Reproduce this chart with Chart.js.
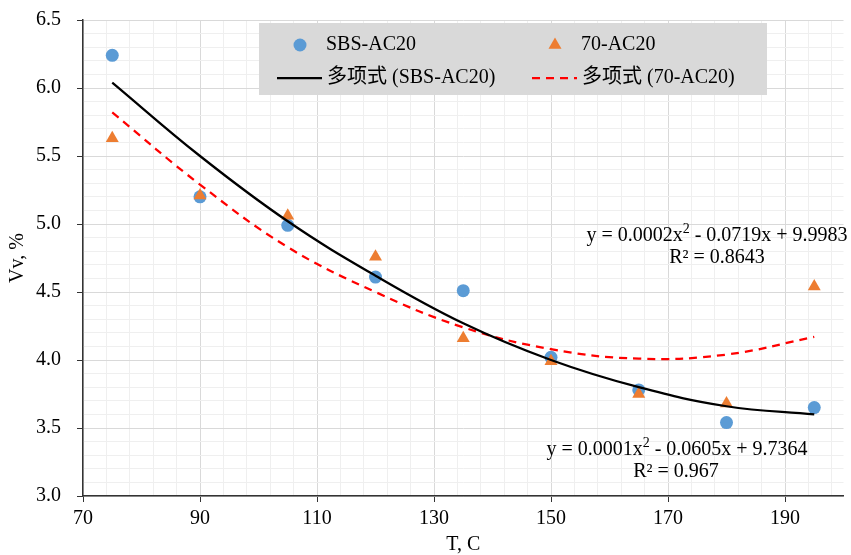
<!DOCTYPE html>
<html>
<head>
<meta charset="utf-8">
<script src="https://cdn.jsdelivr.net/npm/chart.js@4.4.0/dist/chart.umd.min.js"></script>
<style>
  body { margin: 0; background: #fff; }
</style>
</head>
<body>
<canvas id="myChart" width="851" height="555"></canvas>
<script>
// temperatures (x) and measured values
const temps = [75, 90, 105, 120, 135, 150, 165, 180, 195];
const sbsValues = [6.24, 5.20, 4.99, 4.61, 4.51, 4.02, 3.78, 3.54, 3.65];
const ac70Values = [5.63, 5.21, 5.06, 4.76, 4.16, 3.99, 3.75, 3.68, 4.54];
// trendline values at the same temperatures
const sbsTrend = [6.04, 5.50, 5.02, 4.62, 4.27, 4.00, 3.80, 3.66, 3.60];
const ac70Trend = [5.82, 5.29, 4.83, 4.50, 4.24, 4.08, 4.01, 4.04, 4.17];

const xMajorTicks = [70, 90, 110, 130, 150, 170, 190];
const yMajorTicks = [3.0, 3.5, 4.0, 4.5, 5.0, 5.5, 6.0, 6.5];

const sbsEquation = ['y = 0.0001x', '2', ' - 0.0605x + 9.7364'];
const sbsR2 = 'R² = 0.967';
const ac70Equation = ['y = 0.0002x', '2', ' - 0.0719x + 9.9983'];
const ac70R2 = 'R² = 0.8643';

const FAMILY = '"Liberation Serif", "Times New Roman", "Noto Sans CJK SC", serif';

const toPoints = (ys) => temps.map((t, i) => ({ x: t, y: ys[i] }));
const isMajorX = (v) => xMajorTicks.includes(v);
const isMajorY = (v) => yMajorTicks.some((m) => Math.abs(m - v) < 1e-6);

function drawMarker(ctx, style, color, r, x, y) {
  ctx.fillStyle = color;
  ctx.beginPath();
  if (style === 'triangle') {
    let rad = 0;
    ctx.moveTo(x + Math.sin(rad) * r, y - Math.cos(rad) * r);
    rad += 2 * Math.PI / 3;
    ctx.lineTo(x + Math.sin(rad) * r, y - Math.cos(rad) * r);
    rad += 2 * Math.PI / 3;
    ctx.lineTo(x + Math.sin(rad) * r, y - Math.cos(rad) * r);
    ctx.closePath();
  } else {
    ctx.arc(x, y, r, 0, Math.PI * 2);
  }
  ctx.fill();
}

function drawEquation(ctx, parts, cx, cy) {
  ctx.font = '20px ' + FAMILY;
  const w0 = ctx.measureText(parts[0]).width;
  const w2 = ctx.measureText(parts[2]).width;
  ctx.font = '14px ' + FAMILY;
  const w1 = ctx.measureText(parts[1]).width;
  let x = cx - (w0 + w1 + w2) / 2;
  ctx.font = '20px ' + FAMILY;
  ctx.fillText(parts[0], x, cy);
  x += w0;
  ctx.font = '14px ' + FAMILY;
  ctx.fillText(parts[1], x, cy - 7);
  x += w1;
  ctx.font = '20px ' + FAMILY;
  ctx.fillText(parts[2], x, cy);
}

// excel style legend box (2 x 2) and the trendline labels
const boxLegend = {
  id: 'boxLegend',
  afterDraw(chart) {
    const ctx = chart.ctx;
    const ds = chart.data.datasets;
    const x0 = 259, y0 = 23;
    ctx.save();
    ctx.fillStyle = '#D9D9D9';
    ctx.fillRect(x0, y0, 508, 72);

    const rows = [[ds[2], ds[3]], [ds[0], ds[1]]];
    ctx.textBaseline = 'middle';
    ctx.textAlign = 'left';
    rows.forEach((row, ri) => {
      const y = y0 + 22 + ri * 33;
      row.forEach((d, ci) => {
        const x = x0 + ci * 255;
        if (d.showLine) {
          ctx.strokeStyle = d.borderColor;
          ctx.lineWidth = d.borderWidth;
          ctx.setLineDash(d.borderDash || []);
          ctx.beginPath();
          ctx.moveTo(x + 18, y);
          ctx.lineTo(x + 63, y);
          ctx.stroke();
          ctx.setLineDash([]);
        } else {
          drawMarker(ctx, d.pointStyle, d.backgroundColor, d.pointRadius, x + 41, y);
        }
        ctx.fillStyle = '#000';
        ctx.font = '20px ' + FAMILY;
        ctx.fillText(d.label, x + (d.showLine ? 68 : 67), y);
      });
    });

    ctx.fillStyle = '#000';
    drawEquation(ctx, ac70Equation, 717, 236);
    ctx.textAlign = 'center';
    ctx.font = '20px ' + FAMILY;
    ctx.fillText(ac70R2, 717, 258);
    ctx.textAlign = 'left';
    drawEquation(ctx, sbsEquation, 677, 450);
    ctx.textAlign = 'center';
    ctx.font = '20px ' + FAMILY;
    ctx.fillText(sbsR2, 676, 472);
    ctx.restore();
  }
};

const tickFont = { family: FAMILY, size: 20 };

const ctx = document.getElementById('myChart').getContext('2d');
const myChart = new Chart(ctx, {
  type: 'scatter',
  data: {
    datasets: [
      {
        label: '多项式 (SBS-AC20)',
        data: toPoints(sbsTrend),
        showLine: true,
        borderColor: '#000000',
        borderWidth: 2.25,
        pointRadius: 0,
        tension: 0.4,
        order: 0,
      },
      {
        label: '多项式 (70-AC20)',
        data: toPoints(ac70Trend),
        showLine: true,
        borderColor: '#FF0000',
        borderWidth: 2.25,
        borderDash: [8, 6],
        pointRadius: 0,
        tension: 0.4,
        order: 0,
      },
      {
        label: 'SBS-AC20',
        data: toPoints(sbsValues),
        backgroundColor: '#5B9BD5',
        borderWidth: 0,
        pointStyle: 'circle',
        pointRadius: 6.5,
        order: 2,
      },
      {
        label: '70-AC20',
        data: toPoints(ac70Values),
        backgroundColor: '#ED7D31',
        borderWidth: 0,
        pointStyle: 'triangle',
        pointRadius: 7.5,
        order: 1,
      },
    ],
  },
  options: {
    responsive: false,
    animation: false,
    devicePixelRatio: 1,
    layout: { padding: { top: 20, right: 6, left: 0, bottom: 0 } },
    plugins: {
      legend: { display: false },
      tooltip: { enabled: false },
    },
    scales: {
      x: {
        type: 'linear',
        min: 70,
        max: 200,
        afterBuildTicks: (axis) => {
          const t = [];
          for (let v = 70; v < 200; v += 4) t.push({ value: v });
          axis.ticks = t;
        },
        afterFit: (axis) => {
          axis.height = 59;
          axis.paddingLeft = 0;
          axis.paddingRight = 0;
        },
        grid: {
          color: (c) => (c.tick && isMajorX(c.tick.value) ? '#D9D9D9' : '#EFEFEF'),
          tickColor: (c) => (c.tick && isMajorX(c.tick.value) ? '#333333' : 'rgba(0,0,0,0)'),
          tickLength: 6,
          lineWidth: 1,
        },
        border: { color: '#333333', width: 1.5 },
        ticks: {
          autoSkip: false,
          maxRotation: 0,
          padding: 5,
          color: '#000',
          font: tickFont,
          callback: (v) => (isMajorX(v) ? String(v) : ''),
        },
        title: {
          display: true,
          text: 'T, C',
          color: '#000',
          font: { family: FAMILY, size: 20, lineHeight: 1 },
          padding: { top: 0, bottom: 0 },
        },
      },
      y: {
        type: 'linear',
        min: 3,
        max: 6.5,
        afterBuildTicks: (axis) => {
          const t = [];
          for (let k = 30; k <= 65; k++) t.push({ value: k / 10 });
          axis.ticks = t;
        },
        afterFit: (axis) => {
          axis.width = 83;
          axis.paddingTop = 0;
          axis.paddingBottom = 0;
        },
        grid: {
          color: (c) => (c.tick && isMajorY(c.tick.value) ? '#D9D9D9' : '#EFEFEF'),
          tickColor: (c) => (c.tick && isMajorY(c.tick.value) ? '#333333' : 'rgba(0,0,0,0)'),
          tickLength: 6,
          lineWidth: 1,
        },
        border: { color: '#333333', width: 1.5 },
        ticks: {
          autoSkip: false,
          padding: 16,
          color: '#000',
          font: tickFont,
          callback: (v) => (isMajorY(v) ? v.toFixed(1) : ''),
        },
        title: {
          display: true,
          text: 'Vv, %',
          color: '#000',
          font: { family: FAMILY, size: 20, lineHeight: 1 },
          padding: { top: 8, bottom: 0 },
        },
      },
    },
  },
  plugins: [boxLegend],
});
</script>
</body>
</html>
